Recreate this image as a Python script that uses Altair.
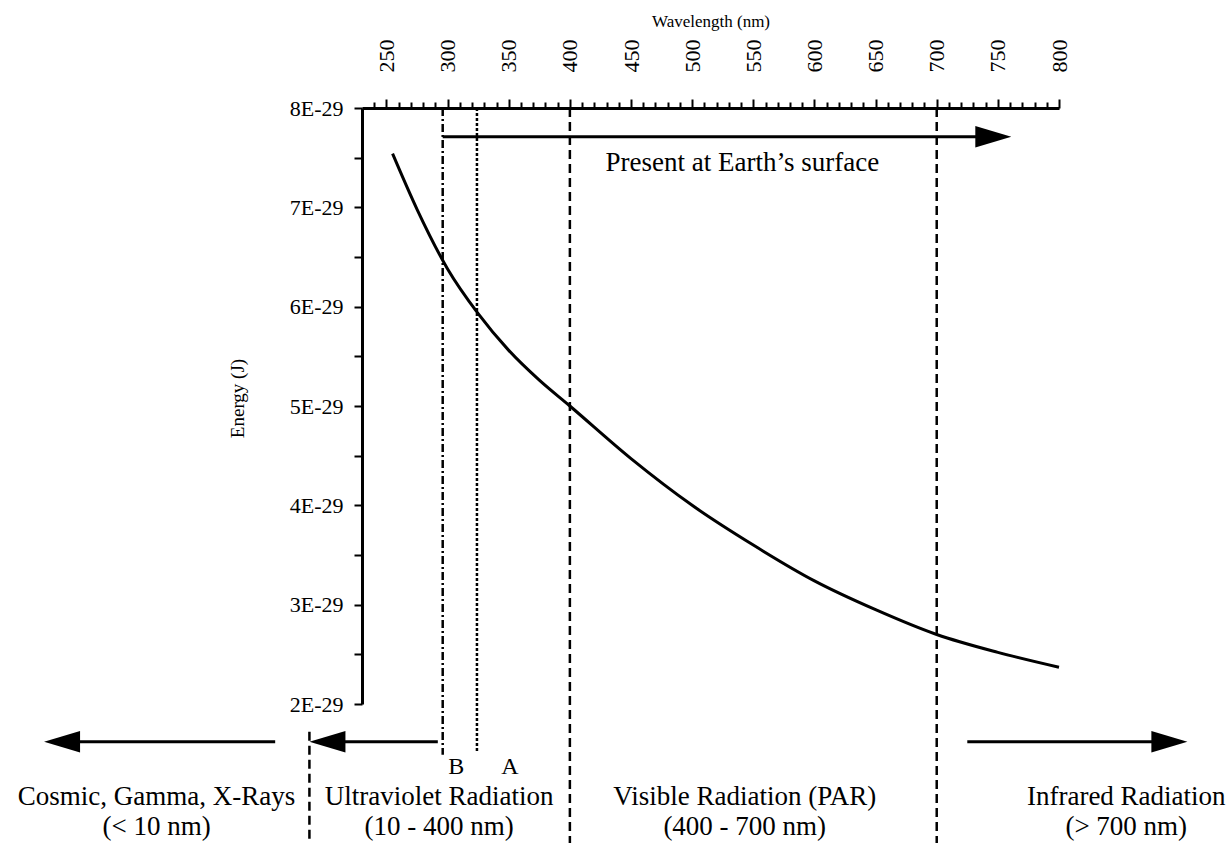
import altair as alt
import pandas as pd

# ---------------- data ----------------
# photon energy curve (wavelength in nm, energy in units of 1E-29 J)
wavelength_nm = [255, 275, 300, 325, 350, 375, 400, 450, 500, 550, 600, 650, 700, 750, 800]
energy_e29 = [7.54, 6.98, 6.38, 5.93, 5.56, 5.26, 5.00, 4.47, 4.00, 3.60, 3.24, 2.95, 2.70, 2.52, 2.37]

# axis ticks
x_tick_values = list(range(240, 801, 10))
x_tick_labels = [250, 300, 350, 400, 450, 500, 550, 600, 650, 700, 750, 800]
y_tick_values = [2, 2.5, 3, 3.5, 4, 4.5, 5, 5.5, 6, 6.5, 7, 7.5, 8]
y_tick_labels = [2, 3, 4, 5, 6, 7, 8]

# region boundary lines
boundary_nm = [296, 324, 400, 700, 187]
boundary_top = [8, 8, 8, 8, 1.72]
boundary_bottom = [1.49, 1.52, 0.4, 0.4, 0.4]
boundary_style = ["dashdot", "dotted", "dashed", "dashed", "dashed"]

# arrows
arrow_start = [296, 159, 292, 725]
arrow_tip = [761, -30, 187, 905]
arrow_level = [7.71, 1.62, 1.62, 1.62]
arrow_dir = ["right", "left", "left", "right"]

# text annotations
ann_text = ["Present at Earth\u2019s surface", "B", "A",
            "Cosmic, Gamma, X-Rays", "(< 10 nm)",
            "Ultraviolet Radiation", "(10 - 400 nm)",
            "Visible Radiation (PAR)", "(400 - 700 nm)",
            "Infrared Radiation", "(> 700 nm)"]
ann_x = [541, 307, 351, 62, 62, 293, 293, 543, 543, 855, 855]
ann_y = [7.45, 1.37, 1.37, 1.06, 0.76, 1.06, 0.76, 1.06, 0.76, 1.06, 0.76]
ann_size = ["big", "mid", "mid", "big", "big", "big", "big", "big", "big", "big", "big"]

# ---------------- build tables ----------------
curve = pd.DataFrame({"x": wavelength_nm, "y": energy_e29})
bounds = pd.DataFrame({"x": boundary_nm, "y": boundary_top, "y2": boundary_bottom,
                       "style": boundary_style})
arrows = pd.DataFrame({"x": arrow_start, "tip": arrow_tip, "y": arrow_level, "dir": arrow_dir})
arrows["x2"] = [t - 20 if d == "right" else t + 20 for t, d in zip(arrow_tip, arrow_dir)]
ann = pd.DataFrame({"x": ann_x, "y": ann_y, "text": ann_text, "size": ann_size})

XDOM = [230, 800]
YDOM = [2, 8]
FONT = "Liberation Serif"

xscale = alt.Scale(domain=XDOM, nice=False, zero=False)
yscale = alt.Scale(domain=YDOM, nice=False, zero=False)

major_test = " || ".join(f"datum.value === {v}" for v in x_tick_labels)

x_axis = alt.Axis(
    orient="top", values=x_tick_values, grid=False,
    labelExpr=f"({major_test}) ? datum.value : ''",
    labelAngle=270, labelAlign="left", labelBaseline="middle",
    labelFont=FONT, labelFontSize=22, labelColor="black", labelPadding=27,
    labelOverlap=False, labelFlush=False, labelBound=False,
    tickSize={"condition": {"test": major_test, "value": 9}, "value": 6},
    tickWidth=2, tickColor="black",
    domainColor="black", domainWidth=3,
    title="Wavelength (nm)", titleFont=FONT, titleFontSize=17,
    titleFontWeight="normal", titleColor="black",
    titleY=-82, titleBaseline="alphabetic",
)
y_major_test = " || ".join(f"datum.value === {v}" for v in y_tick_labels)
y_axis = alt.Axis(
    orient="left", values=y_tick_values, grid=False,
    labelExpr=f"({y_major_test}) ? datum.value + 'E-29' : ''",
    labelFont=FONT, labelFontSize=22, labelColor="black", labelPadding=11,
    labelOverlap=False, labelFlush=False, labelBound=False,
    tickSize=8, tickWidth=2, tickColor="black",
    domainColor="black", domainWidth=3,
    title="Energy (J)", titleFont=FONT, titleFontSize=19,
    titleFontWeight="normal", titleColor="black",
    titleAngle=270, titleX=-125, titleY=290, titleAlign="center", titleBaseline="middle",
)


def X(field="x"):
    return alt.X(f"{field}:Q", scale=xscale, axis=x_axis)


def Y(field="y"):
    return alt.Y(f"{field}:Q", scale=yscale, axis=y_axis)


curve_layer = alt.Chart(curve).mark_line(color="black", strokeWidth=3, interpolate="monotone").encode(
    x=X(), y=Y())

dash_styles = {"dashdot": [8, 3, 2, 3], "dotted": [3, 2], "dashed": [9, 5]}
bound_layers = [
    alt.Chart(bounds).transform_filter(alt.datum.style == s)
    .mark_rule(color="black", strokeWidth=2.5, strokeDash=d)
    .encode(x=X(), y=Y(), y2="y2:Q")
    for s, d in dash_styles.items()
]

arrow_lines = alt.Chart(arrows).mark_rule(color="black", strokeWidth=3).encode(
    x=X(), x2="x2:Q", y=Y())

head_shapes = {"right": "M0,0 L-2,-0.6 L-2,0.6 Z", "left": "M0,0 L2,-0.6 L2,0.6 Z"}
head_layers = [
    alt.Chart(arrows).transform_filter(alt.datum.dir == k)
    .mark_point(shape=p, filled=True, size=1296, color="black", opacity=1, strokeWidth=0)
    .encode(x=X("tip"), y=Y())
    for k, p in head_shapes.items()
]

text_big = alt.Chart(ann).transform_filter(alt.datum.size == "big").mark_text(
    font=FONT, fontSize=27, color="black", align="center", baseline="middle").encode(
    x=X(), y=Y(), text="text:N")
text_mid = alt.Chart(ann).transform_filter(alt.datum.size == "mid").mark_text(
    font=FONT, fontSize=24, color="black", align="center", baseline="middle").encode(
    x=X(), y=Y(), text="text:N")

chart = alt.layer(curve_layer, *bound_layers, arrow_lines, *head_layers, text_big, text_mid).properties(
    width=697, height=596,
    autosize=alt.AutoSizeParams(type="none"),
    padding={"left": 362, "top": 108, "right": 167, "bottom": 139},
    background="white",
).configure(font=FONT).configure_view(stroke=None)

chart.save("out.html", embed_options={"renderer": "svg", "actions": False})
